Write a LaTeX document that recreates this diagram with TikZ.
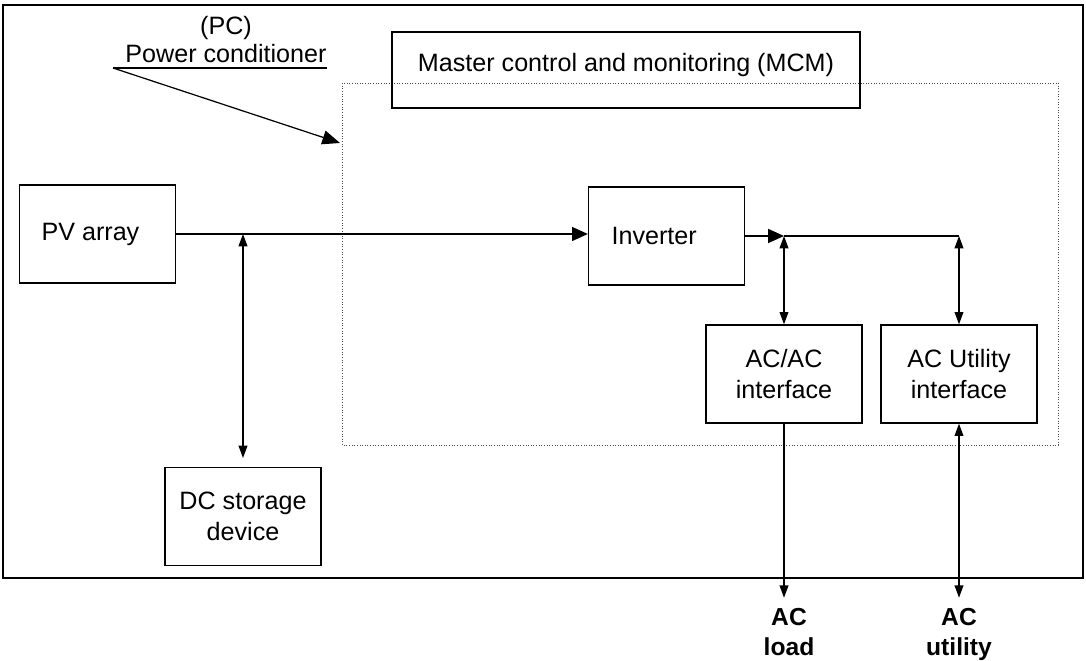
\documentclass[tikz,border=0pt]{standalone}
\usepackage{fontspec}
\setmainfont{Liberation Sans}
\usetikzlibrary{arrows.meta,calc}

\tikzset{
  caja/.style={draw, line width=0.8pt, align=center, inner sep=0pt,
    minimum width=3.12cm, minimum height=1.96cm},
  flecha/.style={-{Triangle[length=9pt,width=8pt]}},
  doble/.style={{Triangle[length=7pt,width=5pt]}-{Triangle[length=7pt,width=5pt]}},
  salida/.style={font=\fontsize{14}{17}\selectfont\bfseries, align=center},
}

\begin{document}
\begin{tikzpicture}[x=0.02cm, y=-0.02cm, line width=0.7pt,
    font=\fontsize{14.3}{18}\selectfont]
    % Marco de la figura
    \useasboundingbox (0,0) rectangle (1086,661);
    \draw[line width=1.2pt] (3,5) rectangle (1083,578);

    % Acondicionador de potencia (marco punteado)
    \draw[densely dotted, line width=0.5pt, black!70] (342,83) rectangle (1058,445);

    % Bloques
    \node[caja] (pv) at (97.5,234) {PV array\hspace{8pt}};
    \node[caja] (dc) at (243,516.5) {DC storage\\device};
    \node[caja] (inv) at (666.5,236) {Inverter\hspace{14pt}};
    \node[caja] (acac) at (784,374) {AC/AC\\interface};
    \node[caja] (acut) at (959,374) {AC Utility\\interface};
    \node[caja, minimum width=9.36cm, minimum height=1.52cm] (mcm) at (626,70)
        {\raisebox{0pt}[\height][\dimexpr\depth+6pt]{Master control and monitoring (MCM)}};

    % Etiqueta PC
    \node (pc) at (226,28) {(PC)};
    \node (pcnom) at (226,54) {Power conditioner};
    \coordinate (u1) at (113,68);
    \coordinate (u2) at (327,68);
    \coordinate (punta) at (340,143);
    \draw (u1) -- (u2);
    \draw[-{Triangle[length=10pt,width=8pt]}] (u1) -- (punta);

    % Puntos de union
    \coordinate (j1) at (pv.east -| dc.north);
    \coordinate (j2) at (inv.east -| acac.north);
    \coordinate (j3) at (inv.east -| acut.north);
    \coordinate (carga) at ($(acac.south)+(0,174)$);
    \coordinate (red) at ($(acut.south)+(0,174)$);

    % Conexiones
    \draw[flecha] (pv.east) -- (pv.east -| inv.west);
    \draw[doble, shorten >=5pt] (j1) -- (dc.north);
    \draw[flecha] (inv.east) -- (j2);
    \draw (j2) -- (j3);
    \draw[doble] (j2) -- (acac.north);
    \draw[doble] (j3) -- (acut.north);
    \draw[-{Triangle[length=7pt,width=5pt]}] (acac.south) -- (carga);
    \draw[doble] (acut.south) -- (red);

    % Salidas
    \node[salida, anchor=north] (lcarga) at ($(carga)+(5,4)$) {AC\\load};
    \node[salida, anchor=north] (lred) at ($(red)+(0,4)$) {AC\\utility};
\end{tikzpicture}
\end{document}
